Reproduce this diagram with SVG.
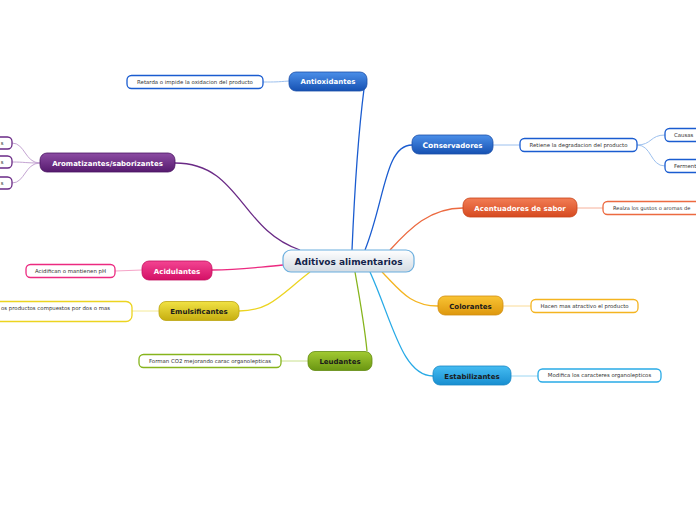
<svg xmlns="http://www.w3.org/2000/svg" width="696" height="520" viewBox="0 0 696 520">
<defs>
<linearGradient id="gC" x1="0" y1="0" x2="0" y2="1"><stop offset="0" stop-color="#ffffff"/><stop offset="1" stop-color="#d3dbe3"/></linearGradient>
<linearGradient id="gB" x1="0" y1="0" x2="0" y2="1"><stop offset="0" stop-color="#4b8fe9"/><stop offset="1" stop-color="#1651b2"/></linearGradient>
<linearGradient id="gO" x1="0" y1="0" x2="0" y2="1"><stop offset="0" stop-color="#f27d55"/><stop offset="1" stop-color="#d64a20"/></linearGradient>
<linearGradient id="gY" x1="0" y1="0" x2="0" y2="1"><stop offset="0" stop-color="#f9c434"/><stop offset="1" stop-color="#de980e"/></linearGradient>
<linearGradient id="gS" x1="0" y1="0" x2="0" y2="1"><stop offset="0" stop-color="#45bcf2"/><stop offset="1" stop-color="#188ed0"/></linearGradient>
<linearGradient id="gG" x1="0" y1="0" x2="0" y2="1"><stop offset="0" stop-color="#a2ca32"/><stop offset="1" stop-color="#6a9612"/></linearGradient>
<linearGradient id="gE" x1="0" y1="0" x2="0" y2="1"><stop offset="0" stop-color="#f1e244"/><stop offset="1" stop-color="#c6ae10"/></linearGradient>
<linearGradient id="gP" x1="0" y1="0" x2="0" y2="1"><stop offset="0" stop-color="#f34592"/><stop offset="1" stop-color="#d41066"/></linearGradient>
<linearGradient id="gV" x1="0" y1="0" x2="0" y2="1"><stop offset="0" stop-color="#8c4ca3"/><stop offset="1" stop-color="#561a6e"/></linearGradient>
</defs>
<style>
.main{font-family:"DejaVu Sans",Verdana,sans-serif;font-weight:bold;font-size:7px;text-anchor:middle}
.w{fill:#ffffff}
.d{fill:#1a1a1a}
.sub{font-family:"DejaVu Sans",Verdana,sans-serif;font-size:5.4px;fill:#333333;text-anchor:middle}
.sb{fill:#ffffff;stroke-width:1.3}
.ln{fill:none;stroke-width:1.3}
.sl{fill:none;stroke-width:1}
</style>
<rect width="696" height="520" fill="#ffffff"/>
<g id="connectors">
<path class="ln" stroke="#1a5cd0" d="M352,250 C355,180 360,120 364,89"/>
<path class="ln" stroke="#1a5cd0" d="M365,250 C385,200 385,145 412,145"/>
<path class="ln" stroke="#ec6a40" d="M390,250 C410,228 430,208 463,208"/>
<path class="ln" stroke="#f4b420" d="M382,272 C400,290 410,306 438,306"/>
<path class="ln" stroke="#28aae6" d="M370,272 C392,320 402,376 433,376"/>
<path class="ln" stroke="#86b41c" d="M355,272 C360,300 365,330 367,351"/>
<path class="ln" stroke="#ecd420" d="M310,272 C280,295 270,311 239,311"/>
<path class="ln" stroke="#ec2a80" d="M283,265 C250,268 240,270 212,270"/>
<path class="ln" stroke="#6a2a86" d="M300,250 C240,230 240,163 175,163"/>
<path class="sl" stroke="#9cc0ee" d="M289,81 C276,82 276,82 263,82"/>
<path class="sl" stroke="#9cc0ee" d="M493,145 L520,145"/>
<path class="sl" stroke="#9cc0ee" d="M637,145 C652,145 650,135 665,135"/>
<path class="sl" stroke="#9cc0ee" d="M637,145 C652,145 650,166 665,166"/>
<path class="sl" stroke="#f6b09a" d="M577,208 L603,208"/>
<path class="sl" stroke="#fadb96" d="M503,306 L531,306"/>
<path class="sl" stroke="#9cd6f2" d="M511,376 L538,376"/>
<path class="sl" stroke="#c8e08c" d="M308,361 L281,361"/>
<path class="sl" stroke="#f4ea96" d="M159,311 L132,311"/>
<path class="sl" stroke="#f6a4c8" d="M142,270 L115,271"/>
<path class="sl" stroke="#c4a4d2" d="M40,163 C25,163 25,143 12,143"/>
<path class="sl" stroke="#c4a4d2" d="M40,163 C25,163 25,162 12,162"/>
<path class="sl" stroke="#c4a4d2" d="M40,163 C25,163 25,183 12,183"/>
</g>
<g id="central">
<rect x="283" y="250" width="131" height="22" rx="8" fill="url(#gC)" stroke="#6aaede" stroke-width="1.2"/>
<text x="348.5" y="264.5" class="main" style="font-size:9px;fill:#14244a">Aditivos alimentarios</text>
</g>
<g id="antioxidantes">
<rect x="289" y="72" width="78" height="19" rx="7" fill="url(#gB)" stroke="#1a4ea8" stroke-width="0.8"/>
<text x="328" y="84" class="main w">Antioxidantes</text>
</g>
<g id="antioxidantes-sub">
<rect x="127" y="75.5" width="136" height="13" rx="4.5" class="sb" stroke="#1a5cd0"/>
<text x="195" y="83.8" class="sub">Retarda o impide la oxidacion del producto</text>
</g>
<g id="conservadores">
<rect x="412" y="135" width="81" height="19" rx="7" fill="url(#gB)" stroke="#1a4ea8" stroke-width="0.8"/>
<text x="452.5" y="147.5" class="main w"><tspan style="font-size:7.6px">Con</tspan><tspan dy="0.8">servadores</tspan></text>
</g>
<g id="conservadores-sub">
<rect x="520" y="138.5" width="117" height="13" rx="4.5" class="sb" stroke="#1a5cd0"/>
<text x="578.5" y="146.8" class="sub">Retiene la degradacion del producto</text>
</g>
<g id="causas">
<rect x="665" y="128.5" width="45" height="13" rx="4.5" class="sb" stroke="#1a5cd0"/>
<text x="674" y="136.8" class="sub" style="text-anchor:start">Causas</text>
</g>
<g id="ferment">
<rect x="665" y="159.5" width="45" height="13" rx="4.5" class="sb" stroke="#1a5cd0"/>
<text x="674" y="167.8" class="sub" style="text-anchor:start">Ferment</text>
</g>
<g id="acentuadores">
<rect x="463" y="198" width="114" height="19" rx="7" fill="url(#gO)" stroke="#c84218" stroke-width="0.8"/>
<text x="520" y="210.5" class="main w">Acentuadores de sabor</text>
</g>
<g id="acentuadores-sub">
<rect x="603" y="201.5" width="110" height="13" rx="4.5" class="sb" stroke="#ec6a40"/>
<text x="613" y="209.8" class="sub" style="text-anchor:start;font-size:5.1px">Realza los gustos o aromas de</text>
</g>
<g id="colorantes">
<rect x="438" y="296" width="65" height="19" rx="7" fill="url(#gY)" stroke="#d08e10" stroke-width="0.8"/>
<text x="470.5" y="308.5" class="main d">Colorantes</text>
</g>
<g id="colorantes-sub">
<rect x="531" y="299.5" width="107" height="13" rx="4.5" class="sb" stroke="#f4b420"/>
<text x="584.5" y="307.8" class="sub">Hacen mas atractivo el producto</text>
</g>
<g id="estabilizantes">
<rect x="433" y="366" width="78" height="19" rx="7" fill="url(#gS)" stroke="#1686c4" stroke-width="0.8"/>
<text x="472" y="378.5" class="main d">Estabilizantes</text>
</g>
<g id="estabilizantes-sub">
<rect x="538" y="369" width="123" height="13" rx="4.5" class="sb" stroke="#28aae6"/>
<text x="599.5" y="377.3" class="sub">Modifica los caracteres organolepticos</text>
</g>
<g id="leudantes">
<rect x="308" y="351.5" width="64" height="19" rx="7" fill="url(#gG)" stroke="#628c10" stroke-width="0.8"/>
<text x="340" y="364" class="main d">Leudantes</text>
</g>
<g id="leudantes-sub">
<rect x="139" y="354.5" width="142" height="13" rx="4.5" class="sb" stroke="#86b41c"/>
<text x="210" y="362.8" class="sub">Forman CO2 mejorando carac organolepticas</text>
</g>
<g id="emulsificantes">
<rect x="159" y="301.5" width="80" height="19" rx="7" fill="url(#gE)" stroke="#bca410" stroke-width="0.8"/>
<text x="199" y="314" class="main d">Emulsificantes</text>
</g>
<g id="emulsificantes-sub">
<rect x="-20" y="301.5" width="152" height="20" rx="6" class="sb" stroke="#ecd420"/>
<text x="1" y="310" class="sub" style="text-anchor:start">os productos compuestos por dos o mas</text>
</g>
<g id="acidulantes">
<rect x="142" y="261" width="70" height="19" rx="7" fill="url(#gP)" stroke="#c40e5e" stroke-width="0.8"/>
<text x="177" y="273.5" class="main w">Acidulantes</text>
</g>
<g id="acidulantes-sub">
<rect x="26" y="264.5" width="89" height="13" rx="4.5" class="sb" stroke="#ec2a80"/>
<text x="70.5" y="272.8" class="sub">Acidifican o mantienen pH</text>
</g>
<g id="aromatizantes">
<rect x="40" y="153" width="135" height="19" rx="7" fill="url(#gV)" stroke="#4a1462" stroke-width="0.8"/>
<text x="107.5" y="165.5" class="main w">Aromatizantes/saborizantes</text>
</g>
<g id="aromatizantes-sub1">
<rect x="-30" y="137" width="42" height="12" rx="4.5" class="sb" stroke="#6a2a86"/>
<text x="3.5" y="144.8" class="sub" style="text-anchor:end">s</text>
</g>
<g id="aromatizantes-sub2">
<rect x="-30" y="156" width="42" height="12" rx="4.5" class="sb" stroke="#6a2a86"/>
<text x="3.5" y="163.8" class="sub" style="text-anchor:end">s</text>
</g>
<g id="aromatizantes-sub3">
<rect x="-30" y="177" width="42" height="12" rx="4.5" class="sb" stroke="#6a2a86"/>
<text x="3.5" y="184.8" class="sub" style="text-anchor:end">s</text>
</g>
</svg>
